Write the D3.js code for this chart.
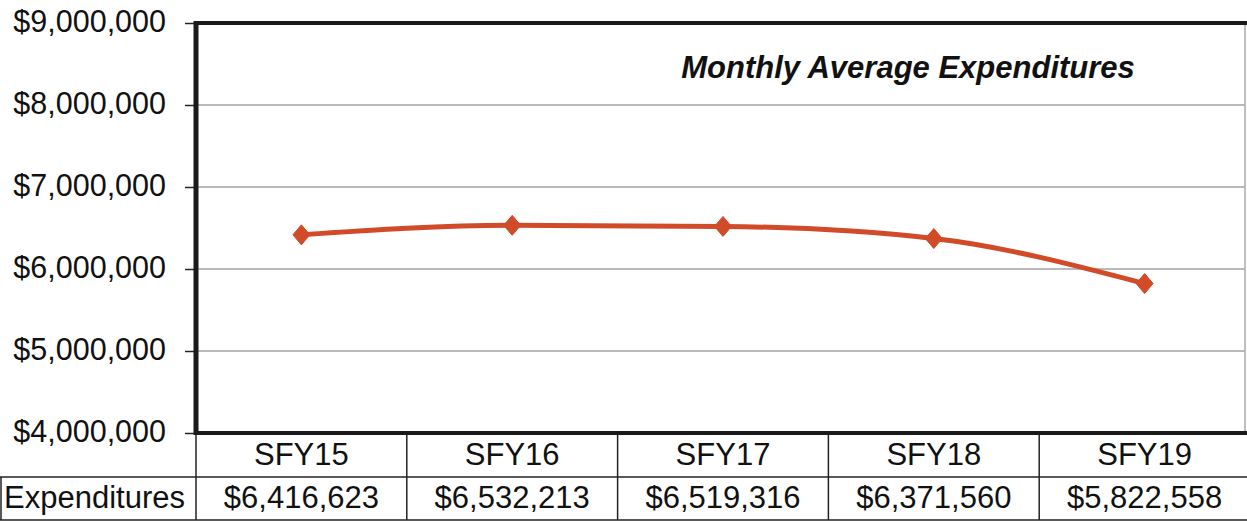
<!DOCTYPE html>
<html>
<head>
<meta charset="utf-8">
<script src="https://cdnjs.cloudflare.com/ajax/libs/d3/7.8.5/d3.min.js"></script>
<style>
  html, body { margin: 0; padding: 0; background: #fff; }
  svg { display: block; font-family: Arial, "Liberation Sans", sans-serif; }
</style>
</head>
<body>
<svg width="1247" height="521"></svg>
<script>
'use strict';

var categories = ['SFY15', 'SFY16', 'SFY17', 'SFY18', 'SFY19'];
var expenditures = [6416623, 6532213, 6519316, 6371560, 5822558];
var yTicks = [4000000, 5000000, 6000000, 7000000, 8000000, 9000000];
var rowLabel = 'Expenditures';
var title = 'Monthly Average Expenditures';

var svg = d3.select('svg');
var lineColor = '#d14b29';
var plot = { left: 196, right: 1245, top: 23, bottom: 433 };
var table = { top: 435, mid: 477, bottom: 520 };

var xScale = d3.scaleBand().domain(categories).range([plot.left, 1250]);
var yScale = d3.scaleLinear().domain([4000000, 9000000]).range([plot.bottom, plot.top]);
var fmt = d3.format('$,');

// gridlines
svg.append('g').selectAll('line').data(yTicks.slice(1, -1)).enter().append('line')
  .attr('x1', plot.left).attr('x2', plot.right)
  .attr('y1', function (d) { return yScale(d); })
  .attr('y2', function (d) { return yScale(d); })
  .attr('stroke', '#a3a3a3').attr('stroke-width', 1.5);

// y axis labels + ticks
var yAxis = d3.axisLeft(yScale).tickValues(yTicks).tickSize(11).tickPadding(19)
  .tickFormat(function (d) { return fmt(d); });
var ya = svg.append('g').attr('transform', 'translate(' + plot.left + ',0)').call(yAxis);
ya.select('.domain').remove();
ya.selectAll('.tick line').attr('stroke', '#222').attr('stroke-width', 1.5);
ya.selectAll('.tick text').attr('font-size', 30.5).attr('font-family', 'Arial, "Liberation Sans", sans-serif')
  .attr('fill', '#111').attr('dy', '0.27em');

// plot frame
svg.append('line').attr('x1', plot.right).attr('x2', plot.right).attr('y1', plot.top).attr('y2', plot.bottom)
  .attr('stroke', '#aaa').attr('stroke-width', 1.5);
svg.append('line').attr('x1', plot.left - 2).attr('x2', 1247).attr('y1', plot.top).attr('y2', plot.top)
  .attr('stroke', '#1a1a1a').attr('stroke-width', 4);
svg.append('line').attr('x1', plot.left - 2).attr('x2', 1247).attr('y1', plot.bottom).attr('y2', plot.bottom)
  .attr('stroke', '#1a1a1a').attr('stroke-width', 4);
svg.append('line').attr('x1', plot.left).attr('x2', plot.left).attr('y1', plot.top - 2).attr('y2', plot.bottom + 2)
  .attr('stroke', '#1a1a1a').attr('stroke-width', 5);

// title
svg.append('text').attr('x', 908).attr('y', 78).attr('text-anchor', 'middle')
  .attr('font-size', 31).attr('font-weight', 'bold').attr('font-style', 'italic')
  .attr('fill', '#111').text(title);

// series line
var cx = function (d, i) { return xScale(categories[i]) + xScale.bandwidth() / 2; };
var line = d3.line().x(cx).y(function (d) { return yScale(d); })
  .curve(d3.curveMonotoneX);
svg.append('path').datum(expenditures).attr('d', line)
  .attr('fill', 'none').attr('stroke', lineColor).attr('stroke-width', 5).attr('stroke-linejoin', 'round');

svg.append('g').selectAll('path').data(expenditures).enter().append('path')
  .attr('transform', function (d, i) { return 'translate(' + cx(d, i) + ',' + yScale(d) + ')'; })
  .attr('d', 'M0,-10L8.5,0L0,10L-8.5,0Z')
  .attr('fill', lineColor).attr('stroke', lineColor).attr('stroke-width', 1);

// data table
var tbl = svg.append('g').attr('stroke', '#222').attr('stroke-width', 1.5);
tbl.append('line').attr('x1', 0).attr('x2', 1247).attr('y1', table.mid).attr('y2', table.mid);
tbl.append('line').attr('x1', 0).attr('x2', 1247).attr('y1', table.bottom).attr('y2', table.bottom);
tbl.append('line').attr('x1', 1).attr('x2', 1).attr('y1', table.mid).attr('y2', table.bottom);
tbl.selectAll('line.div').data(categories).enter().append('line').attr('class', 'div')
  .attr('x1', function (d) { return xScale(d); }).attr('x2', function (d) { return xScale(d); })
  .attr('y1', table.top).attr('y2', table.bottom);

svg.append('g').selectAll('text').data(categories).enter().append('text')
  .attr('x', function (d) { return xScale(d) + xScale.bandwidth() / 2; })
  .attr('y', 465).attr('text-anchor', 'middle').attr('font-size', 31).attr('fill', '#111')
  .text(function (d) { return d; });

svg.append('g').selectAll('text').data(expenditures).enter().append('text')
  .attr('x', cx).attr('y', 508).attr('text-anchor', 'middle').attr('font-size', 31).attr('fill', '#111')
  .text(function (d) { return fmt(d); });

svg.append('text').attr('x', 4).attr('y', 508).attr('font-size', 31).attr('fill', '#111').text(rowLabel);
</script>
</body>
</html>
